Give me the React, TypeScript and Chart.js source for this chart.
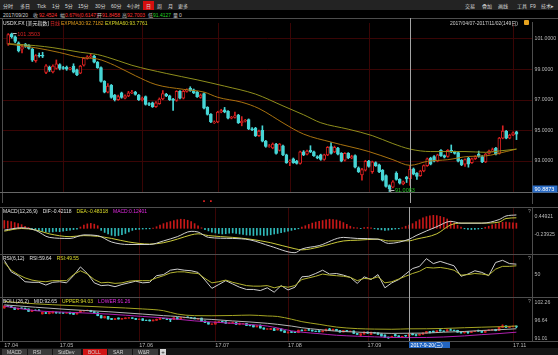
import React, { useEffect, useRef } from 'react';
import { Chart, registerables } from 'chart.js';

Chart.register(...registerables);

// ---------------- data ----------------
const OPEN = [
  100.63, 101.30, 101.10, 100.72, 100.30, 100.62, 100.55, 100.30, 99.55, 99.90,
  99.90, 98.78, 99.12, 98.82, 99.05, 99.30, 99.10, 99.12, 99.00, 99.20,
  98.95, 98.74, 99.25, 99.70, 99.80, 99.85, 99.45, 99.10, 98.20, 97.50,
  97.95, 97.30, 97.00, 97.45, 97.10, 97.25, 97.45, 97.50, 97.30, 97.00,
  97.20, 96.75, 96.80, 96.55, 96.75, 97.05, 97.35, 97.25, 97.05, 96.95,
  97.55, 97.10, 97.55, 97.75, 97.65, 97.50, 97.15, 97.40, 96.50, 96.05,
  95.50, 95.55, 96.20, 96.35, 96.25, 95.80, 95.85, 96.00, 95.50, 95.60,
  95.70, 95.10, 95.15, 94.65, 95.00, 94.30, 93.95, 93.85, 94.10, 93.70,
  94.00, 93.40, 92.95, 93.15, 93.00, 92.85, 93.60, 93.45, 93.70, 93.60,
  93.30, 93.40, 93.10, 93.40, 93.95, 93.60, 93.85, 93.50, 93.05, 93.50,
  93.20, 93.35, 92.55, 92.10, 92.40, 93.00, 92.30, 92.90, 92.75, 92.40,
  92.05, 91.40, 91.30, 92.20, 91.80, 91.50, 91.95, 91.8458, 92.50, 92.20,
  92.05, 92.35, 92.70, 93.20, 93.30, 93.00, 93.70, 93.35, 93.30, 93.70,
  93.60, 93.55, 93.05, 92.80, 93.20, 92.90, 93.15, 93.45, 93.30, 92.95,
  93.50, 93.65, 93.85, 93.50, 94.50, 94.95, 94.50, 94.70, 94.90,
];
const HIGH = [
  101.32, 101.3503, 101.18, 100.78, 100.62, 100.68, 100.60, 100.35, 99.95, 100.05,
  100.10, 99.30, 99.20, 99.28, 99.60, 99.35, 99.18, 99.20, 99.12, 99.35,
  99.00, 99.25, 99.75, 99.88, 100.00, 99.90, 99.50, 99.15, 98.25, 98.05,
  98.00, 97.35, 97.30, 97.50, 97.32, 97.55, 97.62, 97.55, 97.35, 97.18,
  97.25, 96.82, 96.85, 96.88, 97.12, 97.60, 97.42, 97.30, 97.10, 97.60,
  97.60, 97.62, 97.72, 97.85, 97.70, 97.55, 97.38, 97.45, 96.55, 96.10,
  95.62, 96.25, 96.38, 96.50, 96.30, 95.92, 96.20, 96.05, 95.90, 95.72,
  95.75, 95.18, 95.20, 95.02, 95.30, 94.35, 94.08, 94.18, 94.15, 94.15,
  94.05, 93.45, 93.08, 93.20, 93.05, 93.65, 93.68, 93.72, 94.00, 93.65,
  93.35, 93.45, 93.45, 93.95, 94.20, 93.98, 93.90, 93.55, 93.55, 93.55,
  93.38, 93.40, 92.62, 92.52, 93.05, 93.05, 93.00, 92.95, 92.80, 92.45,
  92.10, 91.45, 91.72, 92.30, 91.85, 91.70, 92.00, 92.7003, 92.55, 92.25,
  92.40, 92.75, 93.20, 93.25, 93.35, 93.45, 93.75, 93.40, 93.75, 94.05,
  93.65, 93.60, 93.10, 93.15, 93.25, 93.20, 93.35, 93.65, 93.35, 93.50,
  93.72, 93.85, 93.90, 94.55, 95.30, 95.00, 94.75, 94.90, 94.95,
];
const LOW = [
  100.55, 101.02, 100.72, 100.12, 100.05, 100.42, 100.30, 99.50, 99.45, 99.78,
  99.75, 98.70, 98.85, 98.75, 99.00, 98.95, 98.98, 98.92, 98.95, 98.75,
  98.58, 98.70, 99.20, 99.65, 99.75, 99.40, 99.05, 98.15, 97.45, 97.45,
  97.10, 96.92, 96.95, 97.10, 97.05, 97.20, 97.40, 97.30, 96.95, 96.92,
  96.65, 96.62, 96.50, 96.50, 96.70, 97.00, 97.20, 96.95, 96.30, 96.90,
  97.05, 97.05, 97.50, 97.55, 97.40, 97.15, 97.10, 96.40, 96.00, 95.50,
  95.45, 95.50, 96.15, 96.15, 95.75, 95.75, 95.80, 95.45, 95.30, 95.55,
  95.05, 94.98, 94.60, 94.60, 94.25, 93.90, 93.90, 93.80, 93.45, 93.65,
  93.35, 92.85, 92.70, 92.85, 92.80, 92.80, 93.35, 93.40, 93.55, 93.30,
  93.15, 93.05, 93.05, 93.35, 93.45, 93.55, 93.40, 92.95, 93.00, 93.15,
  93.15, 92.55, 92.25, 91.75, 92.35, 92.60, 92.20, 92.65, 92.25, 91.70,
  91.30, 91.0083, 91.25, 91.75, 91.50, 91.45, 91.60, 91.4127, 92.10, 91.80,
  92.00, 92.30, 92.65, 92.75, 92.95, 92.95, 93.30, 93.20, 93.25, 93.55,
  93.45, 92.95, 92.70, 92.65, 92.60, 92.85, 93.10, 93.25, 92.90, 92.90,
  93.45, 93.60, 93.40, 93.45, 94.45, 94.45, 94.45, 94.65, 94.40,
];
const CLOSE = [
  101.25, 101.12, 100.80, 100.20, 100.45, 100.50, 100.35, 99.58, 99.88, 99.86,
  99.84, 99.22, 98.95, 99.20, 99.35, 99.05, 99.04, 98.99, 99.06, 98.80,
  98.62, 99.20, 99.70, 99.80, 99.85, 99.45, 99.10, 98.20, 97.50, 97.90,
  97.15, 97.00, 97.20, 97.15, 97.25, 97.45, 97.50, 97.35, 97.00, 97.10,
  96.70, 96.70, 96.55, 96.80, 97.05, 97.40, 97.25, 97.00, 96.95, 97.55,
  97.10, 97.55, 97.65, 97.60, 97.45, 97.20, 97.30, 96.45, 96.05, 95.55,
  95.55, 96.20, 96.30, 96.20, 95.80, 95.85, 95.95, 95.50, 95.60, 95.65,
  95.10, 95.05, 94.65, 94.95, 94.30, 93.95, 94.00, 94.10, 93.50, 94.10,
  93.40, 92.90, 93.00, 92.90, 92.85, 93.60, 93.40, 93.65, 93.60, 93.35,
  93.20, 93.10, 93.40, 93.90, 93.50, 93.90, 93.45, 93.00, 93.50, 93.20,
  93.30, 92.60, 92.30, 92.45, 92.98, 92.65, 92.95, 92.70, 92.30, 91.75,
  91.35, 91.20, 91.65, 91.80, 91.55, 91.65, 91.84, 92.4524, 92.15, 92.00,
  92.35, 92.70, 93.15, 92.80, 93.00, 93.40, 93.35, 93.25, 93.70, 93.60,
  93.50, 93.00, 92.75, 93.10, 92.80, 93.15, 93.30, 93.30, 92.95, 93.45,
  93.65, 93.75, 93.45, 94.50, 94.95, 94.50, 94.70, 94.85, 94.75,
];

const MONTH_IDX = [0, 16, 39, 61, 82, 105, 147];
const MONTH_LABELS = ['17.04', '17.05', '17.06', '17.07', '17.08', '17.09', '17.11'];

const EXPMA30_IDX = [0, 8, 15, 21, 26, 31, 37, 43, 51, 57, 61, 68, 73, 77, 80, 86, 94, 105, 112, 117, 122, 128, 134, 139, 145, 148];
const EXPMA30 = [100.64, 100.39, 100.08, 99.76, 99.66, 99.24, 98.57, 97.99, 97.68, 97.50, 97.16, 96.84, 96.43, 95.91, 95.49, 94.76, 94.24, 93.62, 93.09, 92.72, 92.98, 93.09, 93.30, 93.34, 93.62, 93.78];
const EXPMA60_IDX = [0, 8, 13, 21, 26, 32, 36, 46, 55, 63, 72, 80, 86, 91, 99, 106, 112, 117, 123, 133, 139, 143, 148];
const EXPMA60 = [100.66, 100.53, 100.40, 100.10, 99.95, 99.55, 99.25, 98.72, 98.30, 97.89, 97.37, 96.60, 96.02, 95.50, 95.08, 94.66, 94.14, 93.78, 93.62, 93.62, 93.57, 93.66, 93.78];

const MACD_HIST = [
  0.30, 0.28, 0.26, 0.22, 0.18, 0.14,
  0.08, 0.03, -0.02,
  -0.06, -0.09, -0.12, -0.14, -0.15, -0.14, -0.12, -0.13, -0.11, -0.09, -0.07, -0.05, -0.03,
  0.05, 0.12, 0.17, 0.19, 0.16, 0.10,
  -0.08, -0.16, -0.22, -0.27, -0.29, -0.28, -0.25, -0.20, -0.14,
  -0.08, -0.05, -0.04, -0.03, -0.02, -0.02, 0.01,
  0.06, 0.12, 0.18, 0.22, 0.26, 0.30, 0.33, 0.35, 0.34, 0.31, 0.26, 0.18, 0.10,
  0.02,
  -0.05, -0.10, -0.15, -0.18, -0.20, -0.22, -0.21, -0.19, -0.18, -0.20, -0.22, -0.24, -0.26, -0.27,
  -0.28, -0.27, -0.26, -0.28, -0.27, -0.25, -0.22, -0.20, -0.17, -0.14, -0.11, -0.08, -0.05, -0.02,
  0.05, 0.10, 0.15, 0.20, 0.24, 0.27, 0.30, 0.33, 0.35, 0.34, 0.32, 0.28, 0.22, 0.15, 0.08,
  0.03, 0.02, -0.01, 0.03, 0.04, 0.02, -0.02, -0.04, -0.06, -0.08, -0.07, -0.05, -0.03, -0.02, 0.02,
  0.08, 0.124, 0.18, 0.26, 0.33, 0.40, 0.45, 0.48, 0.50, 0.49, 0.46, 0.42, 0.36, 0.28, 0.20, 0.12, 0.05,
  -0.02, -0.04, -0.05, -0.04, -0.03, -0.01,
  0.04, 0.08, 0.13, 0.17, 0.20, 0.23, 0.24, 0.22, 0.21, 0.20,
];
const DIFDEA_IDX = [0, 5, 9, 13, 19, 23, 27, 31, 36, 42, 46, 50, 54, 56, 59, 66, 71, 77, 84, 86, 91, 98, 102, 108, 111, 117, 119, 125, 129, 132, 138, 143, 145, 148];
const DIF = [-0.07, 0.02, -0.076, -0.351, -0.392, -0.254, -0.282, -0.529, -0.625, -0.625, -0.488, -0.323, -0.117, -0.144, -0.351, -0.392, -0.447, -0.694, -0.942, -0.80, -0.667, -0.351, -0.392, -0.419, -0.584, -0.421, -0.282, 0.062, 0.268, 0.199, 0.199, 0.337, 0.474, 0.515];
const DEA = [-0.11, -0.007, -0.062, -0.213, -0.323, -0.282, -0.31, -0.392, -0.529, -0.61, -0.557, -0.419, -0.254, -0.213, -0.282, -0.351, -0.419, -0.557, -0.79, -0.832, -0.722, -0.488, -0.46, -0.419, -0.488, -0.483, -0.419, -0.213, 0.131, 0.199, 0.199, 0.24, 0.378, 0.405];

const RSI_STEP = 2;
const RSI6 = [
  76, 55, 48, 37, 36, 36, 31, 36, 37, 35, 48, 64, 52, 35, 30, 31, 28, 32, 35, 38,
  35, 36, 48, 50, 58, 60, 58, 57, 54, 40, 25, 32, 39, 33, 27, 23, 23, 21, 26, 18,
  30, 22, 27, 46, 47, 52, 58, 51, 52, 49, 45, 34, 46, 41, 50, 26, 35, 41, 51, 61,
  65, 79, 70, 74, 70, 66, 47, 51, 57, 54, 48, 72, 76, 70, 69,
];
const RSI12 = [
  72, 58, 50, 44, 40, 38, 37, 39, 39, 39, 50, 57, 51, 41, 35, 36, 34, 35, 38, 39,
  39, 39, 44, 48, 53, 55, 55, 53, 52, 43, 35, 37, 40, 36, 33, 30, 29, 29, 30, 26,
  29, 27, 30, 41, 44, 47, 51, 49, 48, 47, 45, 39, 43, 42, 46, 35, 37, 42, 47, 52,
  56, 63, 62, 63, 61, 58, 49, 50, 52, 51, 49, 60, 65, 65, 66,
];

const BOLL_IDX = [0, 9, 19, 30, 40, 46, 50, 55, 60, 66, 71, 76, 79, 83, 86, 91, 96, 102, 107, 112, 117, 122, 127, 133, 138, 143, 148];
const BOLL_UPPER = [102.69, 101.94, 101.40, 100.86, 100.32, 99.77, 98.70, 98.20, 98.16, 98.25, 98.37, 98.10, 97.94, 97.08, 96.30, 95.46, 94.60, 94.10, 93.95, 93.90, 94.03, 94.05, 94.15, 94.38, 94.55, 94.70, 94.92];
const BOLL_MID = [101.61, 100.86, 100.10, 99.45, 98.70, 98.20, 97.94, 97.29, 97.00, 96.53, 96.20, 95.78, 95.45, 94.90, 94.38, 93.80, 93.30, 93.00, 92.76, 92.60, 92.65, 92.70, 92.97, 93.20, 93.51, 93.75, 94.05];
const BOLL_LOWER = [101.18, 99.77, 99.24, 98.70, 97.94, 97.50, 97.08, 96.54, 96.20, 95.78, 95.40, 94.92, 94.30, 93.40, 92.97, 92.50, 92.00, 91.70, 91.50, 91.30, 91.26, 91.30, 91.46, 91.80, 92.20, 92.54, 92.97];

const PRICE_TICKS = [93, 95, 97, 99, 101];
const PRICE_BOTTOM = 90.8873;
const MACD_TICKS = [0.44921, -0.23925];
const RSI_TICKS = [50];
const BOLL_TICKS = [102.26, 96.64, 91.01];

const CROSS_IDX = 117;
const CROSS_LABEL = '2017-9-20(三)';
const SIGNAL_IDX = [57, 59];
const SIGNAL_LEVEL = 90.39;

// ---------------- styling / layout ----------------
const FONT = '"Liberation Sans", "Noto Sans CJK SC", Arial, sans-serif';
const RED = '#d82020';
const CYAN = '#47d6d6';
const GRID = '#3a0505';
const SEP = '#4d4d4d';
const AXIS_TXT = '#b8b8b8';
const X_MIN = -1.243;
const X_MAX = 152.514;
const AXIS_W = 26;

const IDX = OPEN.map((_, i) => i);
const isUp = (i: number) => CLOSE[i] >= OPEN[i];
const pts = (xs: number[], ys: number[]) => xs.map((x, k) => ({ x, y: ys[k] }));
const MAX_IDX = HIGH.indexOf(Math.max(...HIGH));
const MIN_IDX = LOW.indexOf(Math.min(...LOW));

function lineDs(data: any[], color: string, smooth = true): any {
  return {
    type: 'line', data, borderColor: color, borderWidth: 1, pointRadius: 0, fill: false,
    cubicInterpolationMode: smooth ? 'monotone' : 'default', tension: 0, order: 0,
  };
}

function candleDs(bodyW: number, hollow: boolean): any[] {
  return [
    {
      type: 'bar', data: IDX.map((i) => ({ x: i, y: [OPEN[i], CLOSE[i]] })),
      backgroundColor: IDX.map((i) => (isUp(i) ? (hollow ? '#000' : RED) : CYAN)),
      borderColor: IDX.map((i) => (isUp(i) ? RED : CYAN)),
      borderWidth: hollow ? 1 : 0, borderSkipped: false, barThickness: bodyW, grouped: false, order: 2,
    },
    {
      type: 'bar', data: IDX.map((i) => ({ x: i, y: [LOW[i], HIGH[i]] })),
      backgroundColor: IDX.map((i) => (isUp(i) ? RED : CYAN)),
      borderWidth: 0, barThickness: 1, grouped: false, order: 3,
    },
  ];
}

function scalesCfg(yMin: number, yMax: number, yTicks: number[], fmt: (v: number) => string, showX: boolean): any {
  return {
    x: {
      type: 'linear', min: X_MIN, max: X_MAX, offset: false, display: showX,
      grid: { display: false, drawTicks: false }, border: { display: false },
      ticks: {
        display: showX, autoSkip: false, maxRotation: 0, minRotation: 0, align: 'start', padding: 1,
        color: AXIS_TXT, font: { size: 5.5, family: FONT },
        callback: (_v: any, i: number) => MONTH_LABELS[i] ?? '',
      },
      afterBuildTicks: (s: any) => { s.ticks = MONTH_IDX.map((v) => ({ value: v })); },
      afterFit: (s: any) => { s.height = showX ? 7 : 0; s.paddingLeft = 0; s.paddingRight = 0; },
    },
    y: {
      position: 'right', min: yMin, max: yMax,
      grid: { display: false, drawTicks: false },
      border: { display: true, color: SEP },
      ticks: { color: AXIS_TXT, font: { size: 5.2, family: FONT }, padding: 2.5, autoSkip: false, callback: (v: any) => fmt(Number(v)) },
      afterBuildTicks: (s: any) => { s.ticks = yTicks.map((v) => ({ value: v })); },
      afterFit: (s: any) => { s.width = AXIS_W; s.paddingTop = 0; s.paddingBottom = 0; },
    },
  };
}

function decor(o: { gridBottom?: number; hGrid?: number[]; after?: (c: any) => void }): any {
  return {
    id: 'decor',
    beforeDatasetsDraw(chart: any) {
      const { ctx, chartArea: a, scales } = chart;
      const x = scales.x, y = scales.y;
      const bottom = o.gridBottom !== undefined ? Math.round(y.getPixelForValue(o.gridBottom)) : a.bottom;
      ctx.save();
      ctx.strokeStyle = GRID;
      ctx.lineWidth = 1;
      ctx.beginPath();
      MONTH_IDX.slice(1).forEach((m) => {
        const px = Math.round(x.getPixelForValue(m)) + 0.5;
        ctx.moveTo(px, a.top + 1);
        ctx.lineTo(px, bottom);
      });
      (o.hGrid || []).forEach((v) => {
        const py = Math.round(y.getPixelForValue(v)) + 0.5;
        ctx.moveTo(3, py);
        ctx.lineTo(a.right, py);
      });
      ctx.stroke();
      ctx.restore();
    },
    afterDatasetsDraw(chart: any) {
      const { ctx, chartArea: a, scales, width } = chart;
      const x = scales.x;
      ctx.save();
      ctx.lineWidth = 1;
      ctx.strokeStyle = SEP;
      ctx.beginPath();
      ctx.moveTo(0, 0.5);
      ctx.lineTo(width, 0.5);
      ctx.moveTo(2.5, 0);
      ctx.lineTo(2.5, a.bottom);
      ctx.stroke();
      const cx = Math.round(x.getPixelForValue(CROSS_IDX)) + 0.5;
      ctx.strokeStyle = '#a4a4a4';
      ctx.beginPath();
      ctx.moveTo(cx, 0);
      ctx.lineTo(cx, a.bottom);
      ctx.stroke();
      if (o.after) o.after(chart);
      ctx.restore();
    },
  };
}

function baseOpts(scales: any): any {
  return {
    responsive: false, maintainAspectRatio: false, animation: false, devicePixelRatio: 1,
    events: [], layout: { padding: 0 },
    plugins: { legend: { display: false }, tooltip: { enabled: false } },
    scales,
  };
}

function mainConfig(): any {
  return {
    type: 'bar',
    data: {
      datasets: [
        ...candleDs(3, true),
        lineDs(pts(EXPMA60_IDX, EXPMA60), '#8e8e1c'),
        lineDs(pts(EXPMA30_IDX, EXPMA30), '#a8720f'),
        {
          type: 'line', data: SIGNAL_IDX.map((i) => ({ x: i, y: SIGNAL_LEVEL })), showLine: false,
          pointStyle: 'rect', pointRadius: 1.2, pointBackgroundColor: '#e02020', pointBorderWidth: 0, order: 0,
        },
      ],
    },
    options: baseOpts(scalesCfg(90.2625, 102.075, PRICE_TICKS, (v) => v.toFixed(4), false)),
    plugins: [
      decor({
        gridBottom: PRICE_BOTTOM, hGrid: PRICE_TICKS,
        after: (chart: any) => {
          const { ctx, chartArea: a, scales, width } = chart;
          const x = scales.x, y = scales.y;
          const yb = Math.round(y.getPixelForValue(PRICE_BOTTOM)) - 0.5;
          ctx.strokeStyle = '#666';
          ctx.beginPath();
          ctx.moveTo(0, yb);
          ctx.lineTo(width, yb);
          ctx.stroke();
          ctx.font = `5.5px ${FONT}`;
          ctx.textBaseline = 'middle';
          ctx.textAlign = 'left';
          const hx = x.getPixelForValue(MAX_IDX), hy = y.getPixelForValue(HIGH[MAX_IDX]);
          ctx.strokeStyle = '#bbb';
          ctx.beginPath();
          ctx.moveTo(hx + 1, Math.round(hy) + 0.5);
          ctx.lineTo(hx + 5, Math.round(hy) + 0.5);
          ctx.stroke();
          ctx.fillStyle = RED;
          ctx.fillText(HIGH[MAX_IDX].toFixed(4), hx + 5.5, hy + 1);
          const lx = x.getPixelForValue(MIN_IDX), ly = y.getPixelForValue(LOW[MIN_IDX]) - 1.5;
          ctx.strokeStyle = '#bbb';
          ctx.beginPath();
          ctx.moveTo(lx, Math.round(ly) + 0.5);
          ctx.lineTo(lx + 5, Math.round(ly) + 0.5);
          ctx.moveTo(lx + 2, Math.round(ly) - 1);
          ctx.lineTo(lx, Math.round(ly) + 0.5);
          ctx.lineTo(lx + 2, Math.round(ly) + 2);
          ctx.stroke();
          ctx.fillStyle = '#22c422';
          ctx.fillText(LOW[MIN_IDX].toFixed(4), lx + 5.5, ly);
          ctx.fillStyle = '#2a6cc6';
          ctx.fillRect(a.right + 0.5, yb - 7, 25, 7);
          ctx.fillStyle = '#ffffff';
          ctx.fillText(PRICE_BOTTOM.toFixed(4), a.right + 2.5, yb - 3.3);
        },
      }),
    ],
  };
}

function macdConfig(): any {
  return {
    type: 'bar',
    data: {
      datasets: [
        {
          type: 'bar', data: IDX.map((i) => ({ x: i, y: MACD_HIST[i] })),
          backgroundColor: MACD_HIST.map((v) => (v >= 0 ? '#c81818' : '#2fb8b8')),
          borderWidth: 0, barThickness: 1, grouped: false, order: 2,
        },
        lineDs(pts(DIFDEA_IDX, DIF), '#cfcfcf'),
        lineDs(pts(DIFDEA_IDX, DEA), '#c9c93a'),
      ],
    },
    options: baseOpts(scalesCfg(-0.9923, 0.8224, MACD_TICKS, (v) => v.toFixed(5), false)),
    plugins: [decor({})],
  };
}

function rsiConfig(): any {
  const xs = RSI6.map((_, k) => k * RSI_STEP);
  return {
    type: 'line',
    data: {
      datasets: [
        lineDs(pts(xs, RSI12), '#b4b431', false),
        lineDs(pts(xs, RSI6), '#cfcfcf', false),
      ],
    },
    options: baseOpts(scalesCfg(9.27, 87.45, RSI_TICKS, (v) => String(Math.round(v)), false)),
    plugins: [decor({})],
  };
}

function bollConfig(): any {
  return {
    type: 'bar',
    data: {
      datasets: [
        ...candleDs(2, false),
        lineDs(pts(BOLL_IDX, BOLL_UPPER), '#a4a422'),
        lineDs(pts(BOLL_IDX, BOLL_MID), '#b4b4b4'),
        lineDs(pts(BOLL_IDX, BOLL_LOWER), '#b020b0'),
      ],
    },
    options: baseOpts(scalesCfg(90.187, 104.093, BOLL_TICKS, (v) => v.toFixed(2), true)),
    plugins: [
      decor({
        after: (chart: any) => {
          const { ctx, chartArea: a, scales, width } = chart;
          const x = scales.x;
          ctx.strokeStyle = SEP;
          ctx.beginPath();
          ctx.moveTo(0, a.bottom + 0.5);
          ctx.lineTo(width, a.bottom + 0.5);
          ctx.stroke();
          const bx = Math.round(x.getPixelForValue(CROSS_IDX));
          ctx.fillStyle = '#2264c0';
          ctx.fillRect(bx, a.bottom + 1, 41, 6.5);
          ctx.fillStyle = '#ffffff';
          ctx.font = `5.2px ${FONT}`;
          ctx.textBaseline = 'middle';
          ctx.textAlign = 'left';
          ctx.fillText(CROSS_LABEL, bx + 1.5, a.bottom + 4.3);
        },
      }),
    ],
  };
}

// ---------------- component ----------------
const txt = (color: string, left: number, top: number, size = 5): any => ({
  position: 'absolute', left, top, color, fontSize: `${size}px`, lineHeight: `${size + 1}px`,
  whiteSpace: 'nowrap', fontFamily: FONT,
});

export default function App() {
  const mainRef = useRef<HTMLCanvasElement>(null);
  const macdRef = useRef<HTMLCanvasElement>(null);
  const rsiRef = useRef<HTMLCanvasElement>(null);
  const bollRef = useRef<HTMLCanvasElement>(null);

  useEffect(() => {
    const charts: Chart[] = [];
    if (mainRef.current) charts.push(new Chart(mainRef.current, mainConfig()));
    if (macdRef.current) charts.push(new Chart(macdRef.current, macdConfig()));
    if (rsiRef.current) charts.push(new Chart(rsiRef.current, rsiConfig()));
    if (bollRef.current) charts.push(new Chart(bollRef.current, bollConfig()));
    return () => charts.forEach((c) => c.destroy());
  }, []);

  const TXT = '#d4d4d4';
  const LBL = '#c4c4c4';
  const VRED = '#ff3434';
  const VGREEN = '#22d422';

  const toolLeft: [string, number][] = [
    ['分时', 3], ['多日', 20], ['Tick', 37], ['1分', 52], ['5分', 65], ['15分', 78], ['30分', 95],
    ['60分', 111], ['4小时', 127], ['日', 146], ['周', 157], ['月', 168], ['更多', 178],
  ];
  const toolRight: [string, number][] = [['交易', 465], ['叠加', 482], ['画线', 498], ['工具', 517], ['F9', 530], ['技术▸', 541]];
  const info: [string, number, string][] = [
    ['2017/09/20', 3, TXT], ['收', 33, LBL], ['92.4524', 39, VRED], ['幅', 60, LBL], ['0.67%(0.6147)', 65, VRED],
    ['开', 97, LBL], ['91.8458', 102, VRED], ['高', 122, LBL], ['92.7003', 127, VRED], ['低', 148, LBL],
    ['91.4127', 153, VGREEN], ['量', 173, LBL], ['0', 179, TXT],
  ];
  const tabs: [string, number, number, string][] = [
    ['MACD', 2, 25, '#3a3a3a'], ['RSI', 28, 24, '#3a3a3a'], ['StdDev', 53, 28, '#3a3a3a'], ['BOLL', 83, 24, '#d01414'],
    ['SAR', 108, 24, '#3a3a3a'], ['W&R', 133, 25, '#3a3a3a'],
  ];
  const head = (items: [string, string][], top: number) => (
    <div style={{ position: 'absolute', left: 3, top, display: 'flex', gap: '5px', fontSize: '5px', lineHeight: '6px', fontFamily: FONT, whiteSpace: 'nowrap' }}>
      {items.map(([s, c], k) => (<span key={k} style={{ color: c }}>{s}</span>))}
    </div>
  );

  return (
    <div style={{ position: 'fixed', left: 0, top: 0, width: 558, height: 355, background: '#000', overflow: 'hidden' }}>
      <div style={{ position: 'absolute', left: 0, top: 0, width: 558, height: 10, background: '#232323' }} />
      <div style={{ position: 'absolute', left: 143, top: 0.5, width: 11, height: 9.5, background: '#d40f0f' }} />
      {toolLeft.map(([s, l]) => (<div key={s} style={txt('#d8d8d8', l, 2.5)}>{s}</div>))}
      {toolRight.map(([s, l]) => (<div key={s} style={txt('#d8d8d8', l, 2.5)}>{s}</div>))}
      {info.map(([s, l, c], k) => (<div key={k} style={txt(c, l, 11.5)}>{s}</div>))}

      <canvas ref={mainRef} width={558} height={189} style={{ position: 'absolute', left: 0, top: 18, width: 558, height: 189 }} />
      <canvas ref={macdRef} width={558} height={47} style={{ position: 'absolute', left: 0, top: 207, width: 558, height: 47 }} />
      <canvas ref={rsiRef} width={558} height={43} style={{ position: 'absolute', left: 0, top: 254, width: 558, height: 43 }} />
      <canvas ref={bollRef} width={558} height={51} style={{ position: 'absolute', left: 0, top: 297, width: 558, height: 51 }} />

      <div style={txt('#e6e6e6', 3, 19.5)}>USDX.FX [美元指数]</div>
      <div style={txt('#e02828', 50, 19.5)}>日线</div>
      <div style={txt('#e09c1c', 61, 19.5)}>EXPMA30:92.7182</div>
      <div style={txt('#d8d826', 105, 19.5)}>EXPMA60:93.7761</div>
      <div style={txt('#d0d0d0', 450, 19.5)}>2017/04/07-2017/11/02(149日)</div>
      <div style={{ position: 'absolute', left: 524, top: 20, width: 5, height: 5, background: '#e6a21e', borderRadius: 1 }} />

      {head([['MACD(12,26,9)', '#e0e0e0'], ['DIF:-0.42118', '#e0e0e0'], ['DEA:-0.48318', '#dede2a'], ['MACD:0.12401', '#e02ae0']], 208)}
      {head([['RSI(6,12)', '#e0e0e0'], ['RSI:59.64', '#e0e0e0'], ['RSI:49.55', '#dede2a']], 255)}
      {head([['BOLL(26,2)', '#e0e0e0'], ['MID:92.65', '#e0e0e0'], ['UPPER:94.03', '#dede2a'], ['LOWER:91.26', '#e02ae0']], 298)}
      <div style={txt('#9a9a9a', 528, 208)}>?</div>
      <div style={txt('#9a9a9a', 528, 255)}>?</div>
      <div style={txt('#9a9a9a', 528, 298)}>?</div>

      <div style={{ position: 'absolute', left: 0, top: 348, width: 558, height: 7, background: '#141414' }} />
      {tabs.map(([s, l, w, bg]) => (
        <div key={s} style={{ position: 'absolute', left: l, top: 348.5, width: w, height: 6.5, background: bg }}>
          <div style={txt('#d0d0d0', 5, 0.5)}>{s}</div>
        </div>
      ))}
      <div style={{ position: 'absolute', left: 160, top: 348.5, width: 6, height: 6.5, background: '#d6d6d6' }}>
        <div style={txt('#222', 1.3, 0.3, 6)}>+</div>
      </div>
    </div>
  );
}
